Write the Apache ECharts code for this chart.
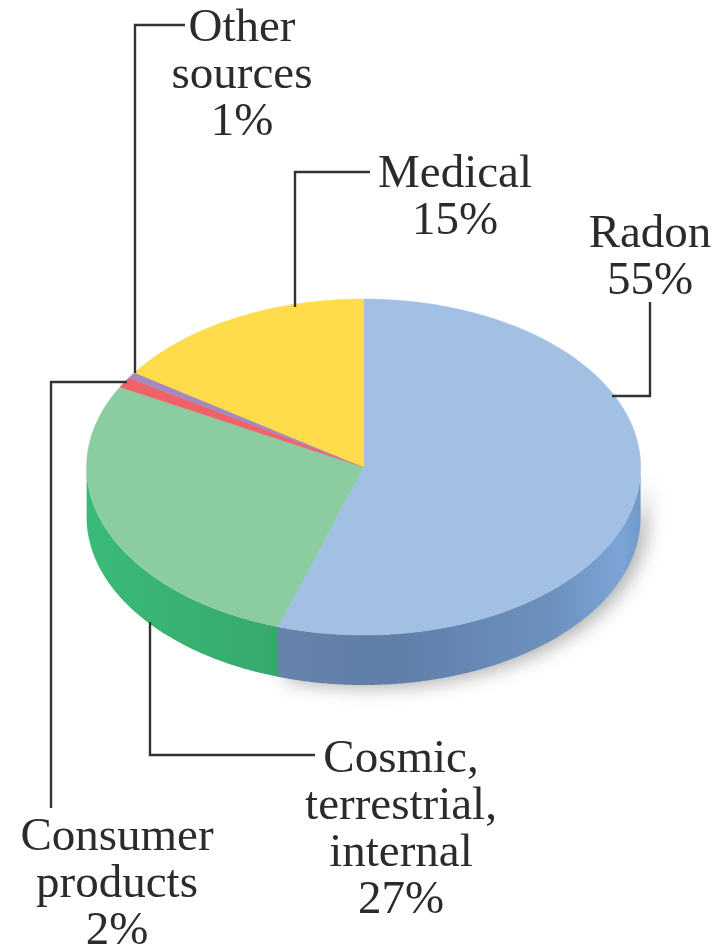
<!DOCTYPE html>
<html>
<head>
<meta charset="utf-8">
<style>html,body{margin:0;padding:0;background:#fff}#c{width:723px;height:944px}</style>
<script src="https://cdn.jsdelivr.net/npm/echarts@6/dist/echarts.min.js"></script>
</head>
<body>
<div id="c"></div>
<script>
var categories = ['Radon', 'Cosmic,\nterrestrial,\ninternal', 'Consumer\nproducts', 'Other\nsources', 'Medical'];
// percentages as printed in the labels
var values = [55, 27, 2, 1, 15];
// slice sizes (the picture's wedges differ a little from the printed figures)
var drawnShares = [55, 27.9, 1.0, 0.6, 15.5];
var topColors = ['#a2bfe4', '#8bcca0', '#ef6268', '#a488c0', '#fedc4b'];
var wallStops = [
  [[0, '#6683ab'], [0.3, '#5f7ea8'], [0.75, '#6c90bd'], [0.95, '#7ba5d6'], [1, '#7099c8']],
  [[0, '#3aba78'], [1, '#36a86e']],
  null, null, null
];
// annotation layout: leader polyline and label anchor, one per slice
var leaders = [
  [[612, 396], [650, 396], [650, 302]],
  [[150, 622], [150, 755], [315, 755]],
  [[127, 382], [51, 382], [51, 808]],
  [[135, 373], [135, 25], [185, 25]],
  [[295, 307], [295, 172], [370, 172]]
];
var labelAnchors = [[650, 258], [401, 830], [117, 885], [242, 76], [455, 198]];

var CX = 363.6, CY = 467, RX = 277, RY = 168, DEPTH = 50;
var total = drawnShares.reduce(function (a, b) { return a + b; }, 0);
var starts = [];
drawnShares.reduce(function (s, v, i) { starts[i] = s; return s + v; }, 0);

function pt(deg, dy) {
  var r = deg * Math.PI / 180;
  return [CX + RX * Math.sin(r), CY - RY * Math.cos(r) + (dy || 0)];
}
function arc(a0, a1, dy) {
  var n = Math.max(2, Math.ceil(Math.abs(a1 - a0) * 2)), out = [];
  for (var i = 0; i <= n; i++) out.push(pt(a0 + (a1 - a0) * i / n, dy));
  return out;
}
var data = values.map(function (v, i) {
  return { name: categories[i], value: [v, drawnShares[i], starts[i]] };
});

function renderItem(params, api) {
  var i = params.dataIndex;
  var a0 = api.value(2) / total * 360;
  var a1 = a0 + api.value(1) / total * 360;
  var children = [];
  var w0 = Math.max(a0, 90), w1 = Math.min(a1, 270);
  if (w1 > w0 && wallStops[i]) {
    var wall = arc(w0, w1, 0).concat(arc(w1, w0, DEPTH));
    children.push({
      type: 'polygon', z2: 1,
      shape: { points: wall },
      style: {
        fill: new echarts.graphic.LinearGradient(0, 0, 1, 0, wallStops[i].map(function (s) {
          return { offset: s[0], color: s[1] };
        })),
        shadowColor: i === 0 ? 'rgba(0,0,0,0.3)' : 'transparent',
        shadowBlur: i === 0 ? 18 : 0,
        shadowOffsetX: i === 0 ? 7 : 0,
        shadowOffsetY: i === 0 ? 3 : 0
      }
    });
  }
  children.push({
    type: 'polygon', z2: 5,
    shape: { points: [[CX, CY]].concat(arc(a0, a1, 0)) },
    style: { fill: topColors[i], stroke: topColors[i], lineWidth: 0.5 }
  });
  children.push({
    type: 'polyline', z2: 10,
    shape: { points: leaders[i] },
    style: { fill: 'none', stroke: '#333333', lineWidth: 2.4 }
  });
  children.push({
    type: 'text', z2: 10,
    x: labelAnchors[i][0], y: labelAnchors[i][1],
    style: {
      text: categories[i] + '\n' + api.value(0) + '%',
      font: '47px "Liberation Serif"',
      lineHeight: 47,
      fill: '#2b2b2b',
      align: 'center',
      verticalAlign: 'middle'
    }
  });
  return { type: 'group', children: children };
}

var chart = echarts.init(document.getElementById('c'), null, { renderer: 'canvas' });
chart.setOption({
  animation: false,
  backgroundColor: '#ffffff',
  series: [{
    type: 'custom',
    coordinateSystem: 'none',
    silent: true,
    clip: false,
    renderItem: renderItem,
    data: data
  }]
});
</script>
</body>
</html>
